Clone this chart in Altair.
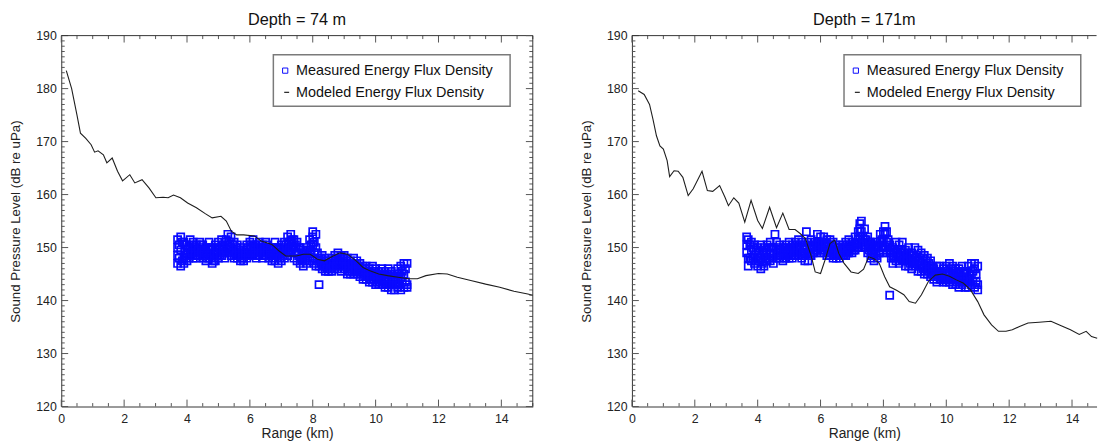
import altair as alt
import pandas as pd

FONT = "Liberation Sans"
BLUE = "#0a0aff"
LINE = "#1e1e1e"
FRAME = "#333333"
TICK = "#555555"

TITLES = ["Depth = 74 m", "Depth = 171m"]
X_TITLE = "Range (km)"
Y_TITLE = "Sound Pressure Level (dB re uPa)"
LEGEND_LABELS = ["Measured Energy Flux Density", "Modeled Energy Flux Density"]
X_LABELS = [0, 2, 4, 6, 8, 10, 12, 14]
Y_LABELS = [120, 130, 140, 150, 160, 170, 180, 190]

# ---- modeled curves ----
L_MODEL_X = [0.16, 0.33, 0.5, 0.61, 0.78, 0.95, 1.06, 1.17, 1.34, 1.45, 1.62, 1.79, 1.95,
             2.18, 2.34, 2.57, 2.79, 3.01, 3.24, 3.4, 3.57, 3.79, 4.02, 4.3, 4.58, 4.8,
             5.08, 5.25, 5.41, 5.58, 5.8, 6.14, 6.36, 6.7, 6.92, 7.14, 7.48, 7.7, 7.92,
             8.15, 8.37, 8.65, 8.87, 9.1, 9.38, 9.6, 9.82, 10.1, 10.38, 10.71, 11.05,
             11.33, 11.6, 12.0, 12.28, 12.6, 13.06, 13.5, 13.95, 14.4, 14.84, 15.0]
L_MODEL_Y = [183.4, 180.0, 175.0, 171.6, 170.6, 169.4, 168.0, 168.25, 167.5, 166.0, 166.9,
             164.4, 162.6, 163.75, 162.2, 162.8, 161.25, 159.4, 159.5, 159.4, 159.9, 159.4,
             158.4, 157.5, 156.4, 155.6, 155.9, 155.0, 153.1, 152.4, 152.4, 152.2, 151.25,
             150.6, 149.4, 148.4, 148.4, 148.75, 148.75, 147.8, 147.5, 148.4, 149.0, 148.75,
             147.5, 146.25, 145.6, 145.0, 144.7, 144.4, 144.1, 144.1, 144.7, 145.1, 145.0,
             144.4, 143.75, 143.1, 142.5, 141.75, 141.25, 141.0]

R_MODEL_X = [0.2, 0.39, 0.56, 0.67, 0.78, 0.89, 1.0, 1.12, 1.2, 1.34, 1.47, 1.62, 1.79,
             1.95, 2.23, 2.4, 2.57, 2.79, 2.96, 3.07, 3.24, 3.4, 3.59, 3.79, 4.0, 4.15,
             4.38, 4.6, 4.8, 5.0, 5.19, 5.36, 5.52, 5.71, 5.83, 6.0, 6.14, 6.3, 6.45,
             6.58, 6.75, 6.97, 7.2, 7.37, 7.53, 7.7, 7.87, 8.04, 8.2, 8.43, 8.65, 8.82,
             9.02, 9.21, 9.43, 9.65, 9.88, 10.1, 10.32, 10.55, 10.77, 11.0, 11.2, 11.44,
             11.66, 11.9, 12.1, 12.33, 12.6, 12.95, 13.33, 13.6, 13.95, 14.23, 14.45,
             14.62, 14.8]
R_MODEL_Y = [179.6, 178.9, 177.0, 174.2, 171.1, 169.2, 168.6, 166.4, 163.4, 164.5, 164.4,
             163.25, 159.8, 161.1, 164.4, 160.75, 160.6, 161.7, 159.5, 157.9, 159.4, 158.4,
             154.8, 158.9, 155.1, 153.6, 157.6, 153.75, 156.5, 153.4, 153.4, 152.6, 151.7,
             148.25, 145.4, 145.1, 147.6, 150.75, 151.4, 148.9, 147.0, 145.4, 145.1, 145.9,
             148.25, 147.9, 147.0, 144.5, 142.6, 141.9, 141.1, 139.8, 139.5, 141.1, 143.6,
             144.8, 145.0, 144.6, 143.9, 143.25, 142.0, 139.8, 137.3, 135.4, 134.2, 134.2,
             134.5, 135.1, 135.75, 135.9, 136.1, 135.4, 134.5, 133.6, 134.2, 133.2, 132.9]

# ---- measured points (range column, levels at that range) ----
L_MEAS_X = [3.7, 3.8, 3.9, 4.0, 4.1, 4.2, 4.3, 4.4, 4.5, 4.6, 4.7, 4.8, 4.9, 5.0, 5.1,
            5.2, 5.3, 5.4, 5.5, 5.6, 5.7, 5.8, 5.9, 6.0, 6.1, 6.2, 6.3, 6.4, 6.5, 6.6,
            6.7, 6.8, 6.9, 7.0, 7.1, 7.2, 7.3, 7.4, 7.5, 7.6, 7.7, 7.8, 7.9, 8.0, 8.05,
            8.1, 8.2, 8.3, 8.4, 8.5, 8.6, 8.7, 8.8, 8.9, 9.0, 9.1, 9.2, 9.3, 9.4, 9.5,
            9.6, 9.7, 9.8, 9.9, 10.0, 10.1, 10.2, 10.3, 10.4, 10.5, 10.6, 10.7, 10.8,
            10.9, 11.0]
L_MEAS_Y = [
    [151.5, 150, 148.5, 147], [152, 149.5, 146.5], [151, 148, 147], [150.5, 149, 147.5],
    [151.5, 150, 148.5], [151, 149.5, 148], [150.5, 149, 148], [151, 150, 148.5],
    [150.5, 149, 148], [150, 148.5, 147.5], [151, 149.5, 148], [150, 148, 147],
    [150.5, 149, 147.5], [151, 149.5, 148], [151.5, 150, 148.5], [151, 149, 148],
    [152.5, 150.5, 149], [152, 150, 148.5], [151, 149.5, 148], [150.5, 149, 148],
    [150, 148.5, 147.5], [149.5, 148, 147.5], [150.5, 149, 148], [151, 150, 148.5],
    [151.5, 150, 148.5], [150.5, 149, 148], [151, 149.5, 148.5], [150.5, 149, 148],
    [151, 150, 148.5], [150, 149, 148], [149.5, 148.5, 147.5], [151, 149, 147.5],
    [150, 148.5, 147], [150.5, 149, 147.5], [151, 149.5, 148], [152, 150, 148.5],
    [152.5, 151, 149.5], [151.5, 150, 148], [151, 149, 147.5], [150, 148, 147],
    [149.5, 148, 146.5], [150, 148.5, 147], [151.5, 149.5, 147.5], [153, 152, 150.5, 148],
    [151, 149, 147], [152.5, 150, 146.5], [143, 148, 146.5], [148.5, 147, 146],
    [148, 146.5, 145.5], [147.5, 146.5, 145.5], [148, 147, 145.5], [148.5, 147, 146],
    [149, 147.5, 146], [148.5, 147, 145.5], [148.5, 147, 146], [148, 146.5, 145],
    [147.5, 146, 145], [148, 146.5, 145], [147.5, 146, 145], [147, 145.5, 144.5],
    [146.5, 145.5, 144], [146.5, 145, 144], [146, 144.5, 143.5], [146.5, 145, 143.5],
    [146, 144.5, 143], [145.5, 144, 143], [146, 144.5, 143], [145.5, 144, 142.5],
    [146, 144, 142.5], [145.5, 143.5, 142], [145, 143.5, 142], [146, 144, 142.5],
    [146.5, 144.5, 142], [147, 145, 142.5], [147, 143, 142.5]]
L_MEAS_X2 = [3.75, 3.85, 3.95, 4.05, 4.15, 4.25, 4.35, 4.45, 4.55, 4.65, 4.75, 4.85, 4.95,
             5.05, 5.15, 5.25, 5.35, 5.45, 5.55, 5.65, 5.75, 5.85, 5.95, 6.05, 6.15, 6.25,
             6.35, 6.45, 6.55, 6.65, 6.75, 6.85, 6.95, 7.05, 7.15, 7.25, 7.35, 7.45, 7.55,
             7.65, 7.75, 7.85, 7.95, 8.15, 8.25, 8.35, 8.45, 8.55, 8.65, 8.75, 8.85, 8.95,
             9.05, 9.15, 9.25, 9.35, 9.45, 9.55, 9.65, 9.75, 9.85, 9.95, 10.05, 10.15,
             10.25, 10.35, 10.45, 10.55, 10.65, 10.75, 10.85, 10.95]
L_MEAS_Y2 = [
    [150.5, 148], [151, 147.5], [149.5, 148.5], [150, 148], [150.5, 149], [150, 148.5],
    [149.5, 148.5], [150.5, 149], [149.5, 148.5], [149, 148], [150, 148.5], [149, 147.5],
    [150, 148.5], [150, 148.5], [150.5, 149], [151.5, 149.5], [151, 149.5], [150.5, 149],
    [150, 148.5], [149.5, 148.5], [149, 148], [149, 148.5], [150, 148.5], [150.5, 149],
    [150.5, 149], [150, 148.5], [150, 149], [150, 148.5], [150.5, 149], [149.5, 148.5],
    [150, 148], [150, 148.5], [149.5, 148], [150, 148.5], [150.5, 149], [151, 149.5],
    [151.5, 150], [150.5, 149], [150, 148.5], [149, 147.5], [149, 147.5], [149.5, 148],
    [150.5, 149], [149, 147.5], [148, 147], [147.5, 146.5], [147, 146], [147, 146],
    [147.5, 146.5], [148, 146.5], [148, 146.5], [148, 146.5], [147.5, 146.5], [147, 145.5],
    [147, 145.5], [147, 145.5], [146.5, 145.5], [146, 145], [146, 144.5], [145.5, 144.5],
    [145, 144], [145.5, 144], [145, 143.5], [145, 143.5], [145, 143.5], [145, 143],
    [145, 143], [144.5, 143], [144.5, 143], [145, 143], [145.5, 143.5], [146, 143.5]]

R_MEAS_X = [3.65, 3.7, 3.8, 3.9, 4.0, 4.1, 4.2, 4.3, 4.4, 4.5, 4.55, 4.6, 4.7, 4.8, 4.9,
            5.0, 5.1, 5.2, 5.3, 5.4, 5.5, 5.55, 5.6, 5.7, 5.8, 5.9, 6.0, 6.1, 6.2, 6.3,
            6.4, 6.5, 6.6, 6.7, 6.8, 6.9, 7.0, 7.1, 7.2, 7.25, 7.3, 7.4, 7.5, 7.6, 7.7,
            7.8, 7.9, 8.0, 8.05, 8.1, 8.2, 8.3, 8.4, 8.5, 8.6, 8.7, 8.8, 8.9, 9.0, 9.1,
            9.2, 9.3, 9.4, 9.5, 9.6, 9.7, 9.8, 9.9, 10.0, 10.1, 10.2, 10.3, 10.4, 10.5,
            10.6, 10.7, 10.8, 10.9, 11.0]
R_MEAS_Y = [
    [152, 150.5, 149], [151.5, 148, 146.5], [151, 149.5, 147.5], [150.5, 148.5, 147],
    [150, 148, 146.5], [150.5, 148, 146], [150, 148.5, 146.5], [150.5, 149, 147.5],
    [151, 149, 147.5], [150, 148.5, 147], [152.5], [151, 149.5, 148], [150.5, 149, 148],
    [150, 148.5, 147.5], [150.5, 149, 148], [151, 149.5, 148], [150.5, 149, 148],
    [151, 150, 148.5], [151.5, 150, 148.5], [151, 149, 148], [150.5, 148.5, 147.5],
    [153], [151, 149, 147.5], [151.5, 150, 148.5], [151, 150, 149], [152.5, 151, 149.5],
    [152, 150.5, 149], [152, 150.5, 149], [151.5, 150, 148.5], [151.5, 149.5, 148.5],
    [151, 149.5, 148], [150.5, 149, 148], [150, 149, 148], [150.5, 149, 148.5],
    [151, 150, 148.5], [151.5, 150, 149], [151, 150, 149], [152, 150.5, 149.5],
    [153, 151.5, 150], [154.5, 153.5, 152], [155, 153, 151], [153.5, 151.5, 150],
    [152, 150.5, 149], [151, 149.5, 148], [150.5, 149, 147.5], [151, 150, 148],
    [152.5, 151, 149], [153, 151.5, 149.5], [154, 152.5, 150], [153, 151, 149],
    [141, 150.5, 149], [150, 148.5, 147], [151, 149, 147.5], [150.5, 148.5, 147],
    [151, 149.5, 147.5], [149.5, 148, 146.5], [150, 148, 146.5], [149, 147.5, 146],
    [150, 148, 146.5], [149.5, 147.5, 145.5], [149, 147, 145.5], [148.5, 146.5, 145],
    [148, 146.5, 145], [147.5, 146, 144.5], [146, 145, 144], [146.5, 145, 143.5],
    [146.5, 145, 144], [146, 144.5, 143.5], [146.5, 145, 143.5], [147, 145, 143.5],
    [146.5, 144.5, 143], [146, 144.5, 143], [146, 144, 142.5], [146.5, 144.5, 143],
    [145.5, 144, 142.5], [146.5, 144, 142.5], [147, 145, 143], [147, 146, 142.5],
    [146.5, 143, 142]]
R_MEAS_X2 = [3.75, 3.85, 3.95, 4.05, 4.15, 4.25, 4.35, 4.45, 4.65, 4.75, 4.85, 4.95, 5.05,
             5.15, 5.25, 5.35, 5.45, 5.65, 5.75, 5.85, 5.95, 6.05, 6.15, 6.25, 6.35, 6.45,
             6.55, 6.65, 6.75, 6.85, 6.95, 7.05, 7.15, 7.35, 7.45, 7.55, 7.65, 7.75, 7.85,
             7.95, 8.15, 8.25, 8.35, 8.45, 8.55, 8.65, 8.75, 8.85, 8.95, 9.05, 9.15, 9.25,
             9.35, 9.45, 9.55, 9.65, 9.75, 9.85, 9.95, 10.05, 10.15, 10.25, 10.35, 10.45,
             10.55, 10.65, 10.75, 10.85, 10.95]
R_MEAS_Y2 = [
    [150.5, 148], [150, 148], [149.5, 147.5], [149, 147.5], [149.5, 147], [149.5, 147.5],
    [150, 148], [150, 148], [150, 148.5], [149.5, 148.5], [149.5, 148], [150, 148.5],
    [150, 148.5], [150, 148.5], [150.5, 149], [150.5, 149], [150, 148.5], [150, 148.5],
    [150.5, 149], [150.5, 149.5], [151, 150], [151, 149.5], [151, 149.5], [150.5, 149],
    [150.5, 149], [150, 148.5], [150, 148.5], [149.5, 148.5], [150, 148.5], [150.5, 149],
    [150.5, 149.5], [150.5, 149.5], [151, 150], [152, 150.5], [151.5, 150], [151, 149.5],
    [150, 148.5], [150, 148.5], [150.5, 149], [151.5, 150], [151.5, 150], [149.5, 148],
    [149.5, 148], [149.5, 148], [149.5, 148], [149, 147.5], [149, 147.5], [148.5, 147],
    [148.5, 147], [148.5, 147], [148, 146.5], [148, 146], [147.5, 146], [147, 145.5],
    [146.5, 145], [145.5, 144.5], [145.5, 144.5], [145, 144], [145.5, 144], [145.5, 144],
    [146, 144], [145.5, 144], [145, 143.5], [145, 143.5], [145.5, 143.5], [145, 143.5],
    [145, 143.5], [145.5, 143.5], [145, 143.5]]

H = 376


def flatten(xs, ys):
    rx, ry = [], []
    for x, col in zip(xs, ys):
        for y in col:
            rx.append(x)
            ry.append(y)
    return pd.DataFrame({"x": rx, "y": ry})


def panel(title, mod_x, mod_y, meas, xmax, width, right_frame):
    xs = alt.Scale(domain=[0, xmax], nice=False, zero=False)
    ys = alt.Scale(domain=[120, 190], nice=False, zero=False)
    xaxis = alt.Axis(values=X_LABELS, ticks=False, grid=False, domain=True,
                     domainColor=FRAME, domainWidth=1, labelFont=FONT, labelFontSize=12.5,
                     labelColor="#222", labelPadding=6, labelFlush=False,
                     title=X_TITLE, titleFont=FONT, titleFontSize=14, titleFontWeight="normal",
                     titleColor="#222", titlePadding=2)
    yaxis = alt.Axis(values=Y_LABELS, ticks=False, grid=False, domain=True,
                     domainColor=FRAME, domainWidth=1, labelFont=FONT, labelFontSize=12.5,
                     labelColor="#222", labelPadding=5, labelFlush=False,
                     minExtent=26, maxExtent=26,
                     title=Y_TITLE, titleFont=FONT, titleFontSize=13.5, titleFontWeight="normal",
                     titleColor="#222", titlePadding=13)

    mod = pd.DataFrame({"x": mod_x, "y": mod_y})

    pts = alt.Chart(meas).mark_point(shape="square", size=52, filled=False, color=BLUE,
                                      strokeWidth=1.7, opacity=1).encode(
        x=alt.X("x:Q", scale=xs, axis=xaxis),
        y=alt.Y("y:Q", scale=ys, axis=yaxis))
    line = alt.Chart(mod).mark_line(color=LINE, strokeWidth=1.1).encode(
        x=alt.X("x:Q", scale=xs, axis=xaxis),
        y=alt.Y("y:Q", scale=ys, axis=yaxis))

    # tick positions
    ymaj = pd.DataFrame({"y": [v for v in range(120, 191) if v % 10 == 0]})
    ymin = pd.DataFrame({"y": [v for v in range(120, 191) if v % 10 != 0]})
    xvals = [i * 0.5 for i in range(0, int(xmax * 2) + 1)]
    xmaj = pd.DataFrame({"x": [v for v in xvals if v % 2 == 0]})
    xmin = pd.DataFrame({"x": [v for v in xvals if v % 2 != 0]})

    def yrule(df, a, b):
        return alt.Chart(df).mark_rule(color=TICK, strokeWidth=1).encode(
            y=alt.Y("y:Q", scale=ys, axis=yaxis), x=alt.value(a), x2=alt.value(b))

    def xrule(df, a, b):
        return alt.Chart(df).mark_rule(color=TICK, strokeWidth=1).encode(
            x=alt.X("x:Q", scale=xs, axis=xaxis), y=alt.value(a), y2=alt.value(b))

    layers = [pts, line,
              yrule(ymaj, 0, 7), yrule(ymin, 0, 3.5),
              xrule(xmaj, H, H - 7), xrule(xmin, H, H - 3.5),
              xrule(xmaj, 0, 7), xrule(xmin, 0, 3.5)]
    one = pd.DataFrame({"k": [0]})
    # top frame
    layers.append(alt.Chart(one).mark_rule(color=FRAME, strokeWidth=1).encode(
        x=alt.value(0), x2=alt.value(width), y=alt.value(0)))
    if right_frame:
        layers += [yrule(ymaj, width, width - 7), yrule(ymin, width, width - 3.5)]
        layers.append(alt.Chart(one).mark_rule(color=FRAME, strokeWidth=1).encode(
            x=alt.value(width), y=alt.value(0), y2=alt.value(H)))

    # legend box
    layers.append(alt.Chart(one).mark_rect(fill="white", stroke="#7a7a7a", strokeWidth=1.5).encode(
        x=alt.value(215), x2=alt.value(455), y=alt.value(19.5), y2=alt.value(71.5)))
    layers.append(alt.Chart(one).mark_point(shape="square", size=28, filled=False, color=BLUE,
                                            strokeWidth=1, opacity=1).encode(
        x=alt.value(227), y=alt.value(35.5)))
    layers.append(alt.Chart(one).mark_rule(color=LINE, strokeWidth=1.2).encode(
        x=alt.value(226), x2=alt.value(231), y=alt.value(57.5)))
    for i, yy in enumerate([36, 58]):
        layers.append(alt.Chart(one).mark_text(align="left", baseline="middle", font=FONT,
                                               fontSize=14.6, color="#111").encode(
            x=alt.value(238), y=alt.value(yy), text=alt.value(LEGEND_LABELS[i])))

    return alt.layer(*layers).properties(
        width=width, height=H,
        title=alt.TitleParams(title, font=FONT, fontSize=16.5, fontWeight="normal",
                              color="#111", anchor="middle", offset=1.5))


l_meas = pd.concat([flatten(L_MEAS_X, L_MEAS_Y), flatten(L_MEAS_X2, L_MEAS_Y2)])
r_meas = pd.concat([flatten(R_MEAS_X, R_MEAS_Y), flatten(R_MEAS_X2, R_MEAS_Y2)])

left = panel(TITLES[0], L_MODEL_X, L_MODEL_Y, l_meas, 15.0, 478, True)
right = panel(TITLES[1], R_MODEL_X, R_MODEL_Y, r_meas, 14.78, 471, False)

chart = alt.hconcat(left, right, spacing=44.5).properties(
    padding={"left": 1, "top": 1, "right": 0, "bottom": 0},
    background="white",
).configure_view(strokeWidth=0)

chart.save("out.html", embed_options={"renderer": "svg", "actions": False})
